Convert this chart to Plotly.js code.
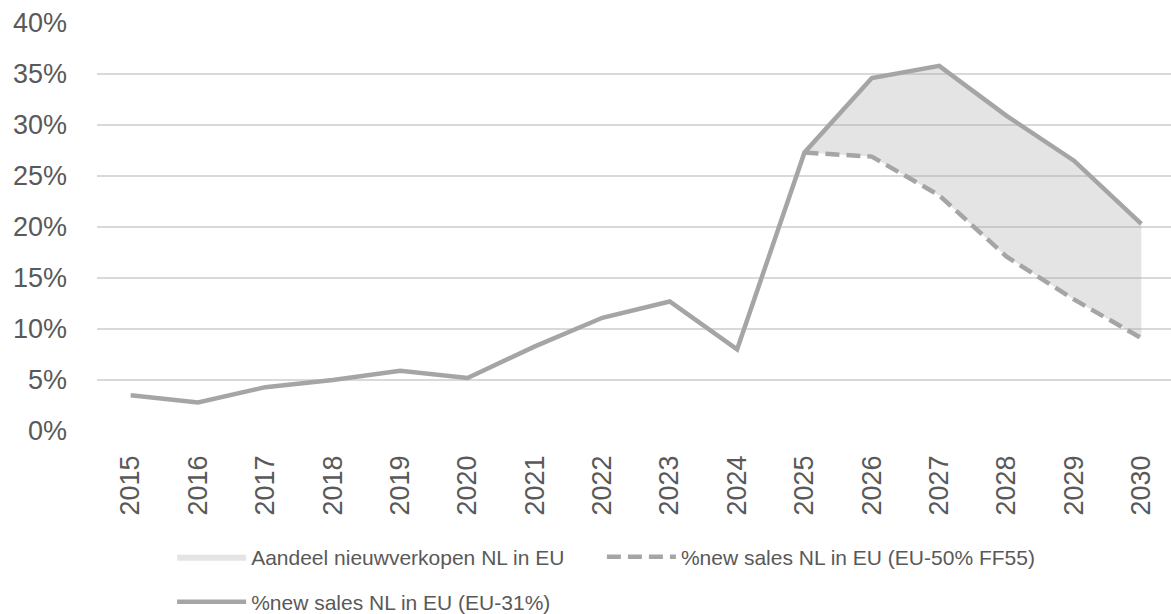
<!DOCTYPE html>
<html>
<head>
<meta charset="utf-8">
<script src="https://cdn.plot.ly/plotly-3.0.1.min.js"></script>
<style>
  html, body { margin: 0; padding: 0; background: #ffffff; }
  #chart { width: 1171px; height: 614px; }
</style>
</head>
<body>
<div id="chart"></div>
<script>
// ---- data ----
const years = ["2015","2016","2017","2018","2019","2020","2021","2022","2023","2024","2025","2026","2027","2028","2029","2030"];
// %new sales NL in EU (EU-31%)  (solid line)
const salesEU31 = [3.5, 2.8, 4.3, 5.0, 5.9, 5.2, 8.3, 11.1, 12.7, 8.0, 27.3, 34.6, 35.8, 30.9, 26.5, 20.3];
// %new sales NL in EU (EU-50% FF55)  (dashed line)
const salesEU50 = [null, null, null, null, null, null, null, null, null, null, 27.3, 26.9, 23.1, 17.1, 12.9, 9.1];

const nameArea = "Aandeel nieuwverkopen NL in EU";
const nameDash = "%new sales NL in EU (EU-50% FF55)";
const nameSolid = "%new sales NL in EU (EU-31%)";

// ---- derived polygon for the shaded band between the two scenarios ----
const idx = years.map((y, i) => i).filter(i => salesEU50[i] !== null);
const bandX = idx.map(i => years[i]);
const bandLow = idx.map(i => salesEU50[i]);
const bandHigh = idx.map(i => salesEU31[i]);
const polyX = bandX.concat(bandX.slice().reverse());
const polyY = bandHigh.concat(bandLow.slice().reverse());

const lineCol = "#a5a5a5";
const font = "'Liberation Sans', Arial, sans-serif";

const traces = [
  { x: polyX, y: polyY, type: "scatter", mode: "lines", fill: "toself",
    fillcolor: "rgba(165,165,165,0.3)", line: { width: 0, color: "rgba(0,0,0,0)" },
    name: nameArea, legend: "legend", hoverinfo: "skip" },
  { x: years, y: salesEU50, type: "scatter", mode: "lines",
    line: { color: lineCol, width: 4.5, dash: "14px,7px" },
    name: nameDash, legend: "legend3" },
  { x: years, y: salesEU31, type: "scatter", mode: "lines",
    line: { color: lineCol, width: 4.5 },
    name: nameSolid, legend: "legend2" }
];

const legBase = {
  orientation: "h", xref: "container", yref: "container",
  xanchor: "left", yanchor: "middle", itemwidth: 69,
  font: { size: 21, color: "#595959", family: font },
  bgcolor: "rgba(0,0,0,0)"
};

const layout = {
  width: 1171, height: 614,
  margin: { l: 97, r: 0, t: 23, b: 183 },
  paper_bgcolor: "#ffffff", plot_bgcolor: "#ffffff",
  font: { family: font, color: "#595959" },
  xaxis: {
    type: "category", categoryorder: "array", categoryarray: years,
    range: [-0.5, 15.44],
    showgrid: false, zeroline: false, showline: false,
    tickangle: -90, ticks: "", ticklabelstandoff: 18,
    tickfont: { size: 27, color: "#595959", family: font }
  },
  yaxis: {
    range: [0, 40], dtick: 5, ticksuffix: "%",
    showgrid: true, gridcolor: "#d9d9d9", gridwidth: 1.3,
    zeroline: false, showline: false, ticks: "", ticklabelstandoff: 29,
    tickfont: { size: 27, color: "#595959", family: font }
  },
  legend: Object.assign({}, legBase, { x: 0.147, y: 1 - 557 / 614 }),
  legend3: Object.assign({}, legBase, { x: 0.514, y: 1 - 557 / 614 }),
  legend2: Object.assign({}, legBase, { x: 0.147, y: 1 - 602 / 614 }),
  showlegend: true
};

Plotly.newPlot("chart", traces, layout, { displayModeBar: false, staticPlot: true });
</script>
</body>
</html>
